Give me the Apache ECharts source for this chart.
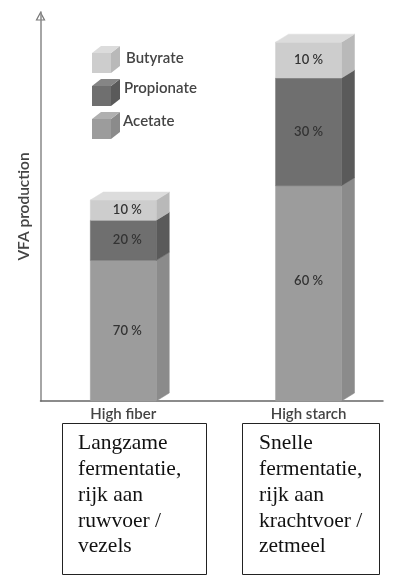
<!DOCTYPE html>
<html>
<head>
<meta charset="utf-8">
<style>html,body{margin:0;padding:0;background:#fff}#c{width:396px;height:586px}</style>
<script src="https://cdn.jsdelivr.net/npm/echarts@6/dist/echarts.min.js"></script>
</head>
<body>
<div id="c"></div>
<script>
const categories = ['High fiber', 'High starch'];
const totalProduction = [56, 100];
const acetateShare = [70, 60];
const propionateShare = [20, 30];
const butyrateShare = [10, 10];
const seriesNames = ['Acetate', 'Propionate', 'Butyrate'];
const notes = [
  ['Langzame', 'fermentatie,', 'rijk aan', 'ruwvoer /', 'vezels'],
  ['Snelle', 'fermentatie,', 'rijk aan', 'krachtvoer /', 'zetmeel']
];

const palette = {
  Acetate: { front: '#9c9c9c', side: '#8b8b8b', top: '#b0b0b0' },
  Propionate: { front: '#6f6f6f', side: '#5a5a5a', top: '#858585' },
  Butyrate: { front: '#cdcdcd', side: '#b9b9b9', top: '#dcdcdc' }
};
const labelFamily = 'Lato, "Open Sans", sans-serif';
const shares = [acetateShare, propionateShare, butyrateShare];

function rows(k) {
  return categories.map((_, i) => {
    let base = 0;
    for (let j = 0; j < k; j++) base += totalProduction[i] * shares[j][i] / 100;
    return [i, base, base + totalProduction[i] * shares[k][i] / 100, shares[k][i]];
  });
}

function barSeries(k) {
  const name = seriesNames[k];
  const c = palette[name];
  const isTop = k === seriesNames.length - 1;
  return {
    type: 'custom',
    name,
    data: rows(k),
    clip: false,
    renderItem(params, api) {
      const idx = api.value(0);
      const low = api.coord([idx, api.value(1)]);
      const high = api.coord([idx, api.value(2)]);
      const w = api.size([0.356, 0])[0];
      const dx = 13, dy = 8;
      const l = low[0] - w / 2, r = low[0] + w / 2, y0 = low[1], y1 = high[1];
      const poly = (points, fill) => ({
        type: 'polygon', shape: { points }, style: { fill, stroke: fill, lineWidth: 0.5 }
      });
      const children = [
        poly([[r, y0], [r + dx, y0 - dy], [r + dx, y1 - dy], [r, y1]], c.side),
        poly([[l, y0], [r, y0], [r, y1], [l, y1]], c.front)
      ];
      if (isTop) children.push(poly([[l, y1], [l + dx, y1 - dy], [r + dx, y1 - dy], [r, y1]], c.top));
      const labelShiftX = idx === 0 ? 4 : 0;
      const labelLift = (idx === 1 && k === 0) ? 13 : 0;
      children.push({
        type: 'text',
        style: {
          x: low[0] + labelShiftX, y: (y0 + y1) / 2 - labelLift,
          text: api.value(3) + ' %',
          align: 'center', verticalAlign: 'middle',
          font: '600 13px ' + labelFamily, fill: '#333'
        }
      });
      return { type: 'group', children };
    }
  };
}

function legendCube(name, x, y, labelX, labelY) {
  const c = palette[name];
  const w = 19, h = 20, dx = 9, dy = 7;
  const poly = (points, fill) => ({ type: 'polygon', shape: { points }, style: { fill } });
  return {
    type: 'group',
    children: [
      poly([[x + w, y], [x + w + dx, y - dy], [x + w + dx, y + h - dy], [x + w, y + h]], c.side),
      poly([[x, y], [x + dx, y - dy], [x + w + dx, y - dy], [x + w, y]], c.top),
      poly([[x, y], [x + w, y], [x + w, y + h], [x, y + h]], c.front),
      { type: 'text', style: { x: labelX, y: labelY, text: name, align: 'left', verticalAlign: 'middle',
        font: '600 15px ' + labelFamily, fill: '#444' } }
    ]
  };
}

function noteBox(lines, x, w, textX) {
  return {
    type: 'group',
    children: [
      { type: 'rect', shape: { x, y: 423.5, width: w, height: 151 },
        style: { fill: '#fff', stroke: '#222', lineWidth: 1 } },
      { type: 'text', style: { x: textX, y: 431, text: lines.join('\n'), lineHeight: 25.7,
        align: 'left', verticalAlign: 'top', font: '21.5px "Liberation Serif", serif', fill: '#111' } }
    ]
  };
}

const chart = echarts.init(document.getElementById('c'), null, { renderer: 'canvas' });
chart.setOption({
  animation: false,
  backgroundColor: '#fff',
  grid: { left: 40.5, right: 13, top: 12, bottom: 185 },
  xAxis: {
    type: 'value', min: -0.447, max: 1.402,
    splitLine: { show: false },
    axisTick: { show: false },
    axisLine: { show: true, onZero: false, lineStyle: { color: '#666', width: 1.5 } },
    axisLabel: {
      customValues: [0, 1], margin: 6, hideOverlap: false,
      formatter: v => categories[Math.round(v)],
      fontFamily: labelFamily, fontSize: 15, fontWeight: 600, color: '#444'
    }
  },
  yAxis: {
    type: 'value', min: 0, max: 108.4,
    name: 'VFA production', nameLocation: 'middle', nameGap: 9, nameRotate: 90,
    nameTextStyle: { fontFamily: labelFamily, fontSize: 15.5, fontWeight: 600, color: '#444' },
    splitLine: { show: false },
    axisTick: { show: false },
    axisLabel: { show: false },
    axisLine: { show: true, onZero: false, lineStyle: { color: '#888', width: 1.5 } }
  },
  series: seriesNames.map((_, k) => barSeries(k)),
  graphic: [
    { type: 'polygon', shape: { points: [[40.5, 12.5], [36.5, 20], [44.5, 20]] },
      style: { fill: '#fff', stroke: '#777', lineWidth: 1.2 } },
    legendCube('Butyrate', 92, 53, 126, 58),
    legendCube('Propionate', 92, 86, 124, 88),
    legendCube('Acetate', 92, 119, 123, 121),
    noteBox(notes[0], 62.5, 144, 78),
    noteBox(notes[1], 242.5, 137, 259)
  ]
});
</script>
</body>
</html>
